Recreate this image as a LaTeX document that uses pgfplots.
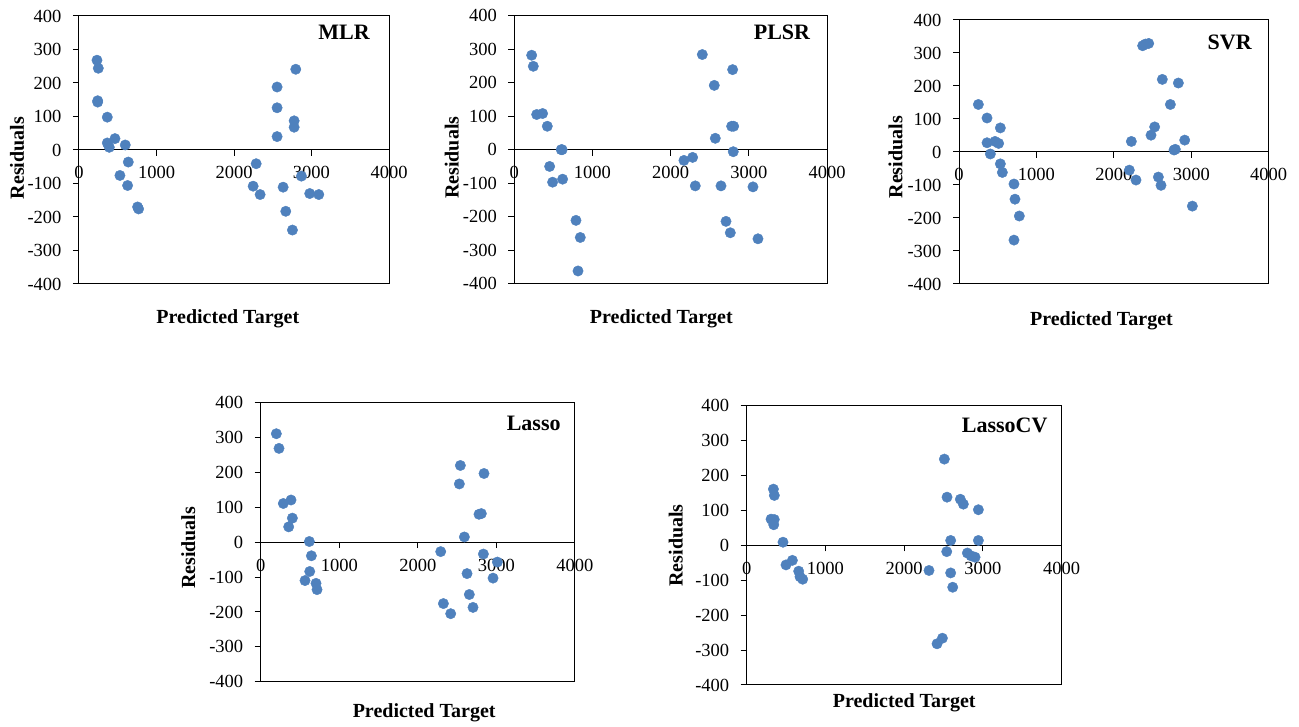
\documentclass[border=0pt]{standalone}
\usepackage{fontspec}
\setmainfont{Liberation Serif}
\usepackage{pgfplots}
\pgfplotsset{compat=1.18}
\definecolor{dotblue}{HTML}{4F81BD}
\pgfplotsset{resid/.style={
  scale only axis, anchor=south west,
  xmin=0, xmax=4000, ymin=-400, ymax=400,
  axis x line=middle, axis y line=left,
  axis line style={-, black, line width=1pt},
  xtick={0,1000,2000,3000,4000}, ytick={-400,-300,...,400},
  hide obscured x ticks=false, hide obscured y ticks=false,
  tick align=outside, major tick length=6pt,
  tick style={black, line width=1pt},
  tick label style={font=\fontsize{18.5}{20}\selectfont},
  xticklabel style={anchor=north, yshift=-7pt},
  yticklabel style={anchor=east, xshift=-8pt},
  /pgf/number format/assume math mode=true,
  /pgf/number format/1000 sep={},
  xlabel={Predicted Target}, ylabel={Residuals},
  label style={font=\fontsize{20}{24}\selectfont\bfseries},
  clip=false,
}, dots/.style={only marks, mark=*, mark size=5.2pt, color=dotblue, mark options={draw=dotblue, fill=dotblue}}}
\begin{document}
\begin{tikzpicture}
\useasboundingbox (0,0) rectangle (1299pt,727pt);
% MLR
\begin{axis}[resid, at={(79pt,443pt)}, width=310pt, height=268pt,
  xlabel style={at={(axis description cs:0.48,-0.13)}, anchor=center},
  ylabel style={at={(axis description cs:-0.2,0.47)}, anchor=center}]
\addplot[dots] coordinates {(232,268)(249,244)(241,147)(241,143)(365,98)(365,21)(391,8)(464,34)(597,15)(636,-36)(528,-76)(627,-106)(756,-170)(769,-176)(2286,-41)(2247,-108)(2337,-133)(2556,188)(2556,126)(2556,40)(2797,241)(2776,87)(2776,68)(2634,-111)(2668,-183)(2754,-239)(2870,-78)(2977,-130)(3094,-133)};
\draw[black, line width=1pt] (rel axis cs:0,0) rectangle (rel axis cs:1,1);
\node[font=\fontsize{22}{24}\selectfont\bfseries] at (axis cs:3419,350) {MLR};
\end{axis}
% PLSR
\begin{axis}[resid, at={(514.3pt,443.3pt)}, width=312.7pt, height=268pt,
  xlabel style={at={(axis description cs:0.47,-0.13)}, anchor=center},
  ylabel style={at={(axis description cs:-0.2,0.47)}, anchor=center}]
\addplot[dots] coordinates {(222,282)(243,249)(286,105)(362,108)(422,70)(600,0)(612,0)(452,-50)(490,-97)(618,-88)(789,-211)(844,-262)(815,-362)(2170,-32)(2281,-23)(2315,-108)(2405,284)(2558,192)(2571,34)(2644,-108)(2708,-214)(2763,-248)(2793,239)(2780,70)(2806,70)(2801,-6)(3053,-111)(3117,-266)};
\draw[black, line width=1pt] (rel axis cs:0,0) rectangle (rel axis cs:1,1);
\node[font=\fontsize{22}{24}\selectfont\bfseries] at (axis cs:3424,351) {PLSR};
\end{axis}
% SVR
\begin{axis}[resid, at={(959pt,443pt)}, width=309.7pt, height=264pt,
  xlabel style={at={(axis description cs:0.46,-0.14)}, anchor=center},
  ylabel style={at={(axis description cs:-0.205,0.48)}, anchor=center}]
\addplot[dots] coordinates {(250,144)(362,103)(362,28)(465,32)(512,26)(405,-6)(534,73)(534,-36)(560,-62)(710,-97)(723,-143)(779,-194)(710,-267)(2226,32)(2200,-55)(2286,-85)(2372,322)(2407,327)(2450,329)(2480,51)(2527,76)(2575,-76)(2609,-101)(2626,220)(2730,144)(2777,6)(2794,8)(2833,209)(2915,36)(3014,-164)};
\draw[black, line width=1pt] (rel axis cs:0,0) rectangle (rel axis cs:1,1);
\node[font=\fontsize{22}{24}\selectfont\bfseries] at (axis cs:3496,331) {SVR};
\end{axis}
% Lasso
\begin{axis}[resid, at={(260.7pt,45.3pt)}, width=314.3pt, height=279pt,
  xlabel style={at={(axis description cs:0.52,-0.11)}, anchor=center},
  ylabel style={at={(axis description cs:-0.23,0.48)}, anchor=center}]
\addplot[dots] coordinates {(199,311)(233,269)(288,111)(386,121)(403,69)(356,44)(619,2)(645,-39)(624,-84)(564,-110)(704,-118)(717,-136)(2291,-27)(2325,-176)(2418,-205)(2541,220)(2528,167)(2592,15)(2626,-90)(2655,-150)(2702,-187)(2778,80)(2808,82)(2842,197)(2834,-34)(3012,-57)(2957,-103)};
\draw[black, line width=1pt] (rel axis cs:0,0) rectangle (rel axis cs:1,1);
\node[font=\fontsize{22}{24}\selectfont\bfseries] at (axis cs:3474,341) {Lasso};
\end{axis}
% LassoCV
\begin{axis}[resid, at={(746.7pt,42pt)}, width=315pt, height=279.3pt,
  xlabel style={at={(axis description cs:0.5,-0.065)}, anchor=center},
  ylabel style={at={(axis description cs:-0.225,0.5)}, anchor=center}]
\addplot[dots] coordinates {(339,161)(351,143)(309,75)(350,74)(343,59)(461,9)(499,-56)(580,-43)(660,-74)(677,-90)(711,-97)(2315,-72)(2417,-282)(2485,-266)(2510,247)(2544,138)(2540,-18)(2590,14)(2590,-79)(2616,-120)(2713,132)(2751,118)(2802,-22)(2849,-30)(2900,-34)(2942,102)(2942,14)};
\draw[black, line width=1pt] (rel axis cs:0,0) rectangle (rel axis cs:1,1);
\node[font=\fontsize{22}{24}\selectfont\bfseries] at (axis cs:3276,345) {LassoCV};
\end{axis}
\end{tikzpicture}
\end{document}
